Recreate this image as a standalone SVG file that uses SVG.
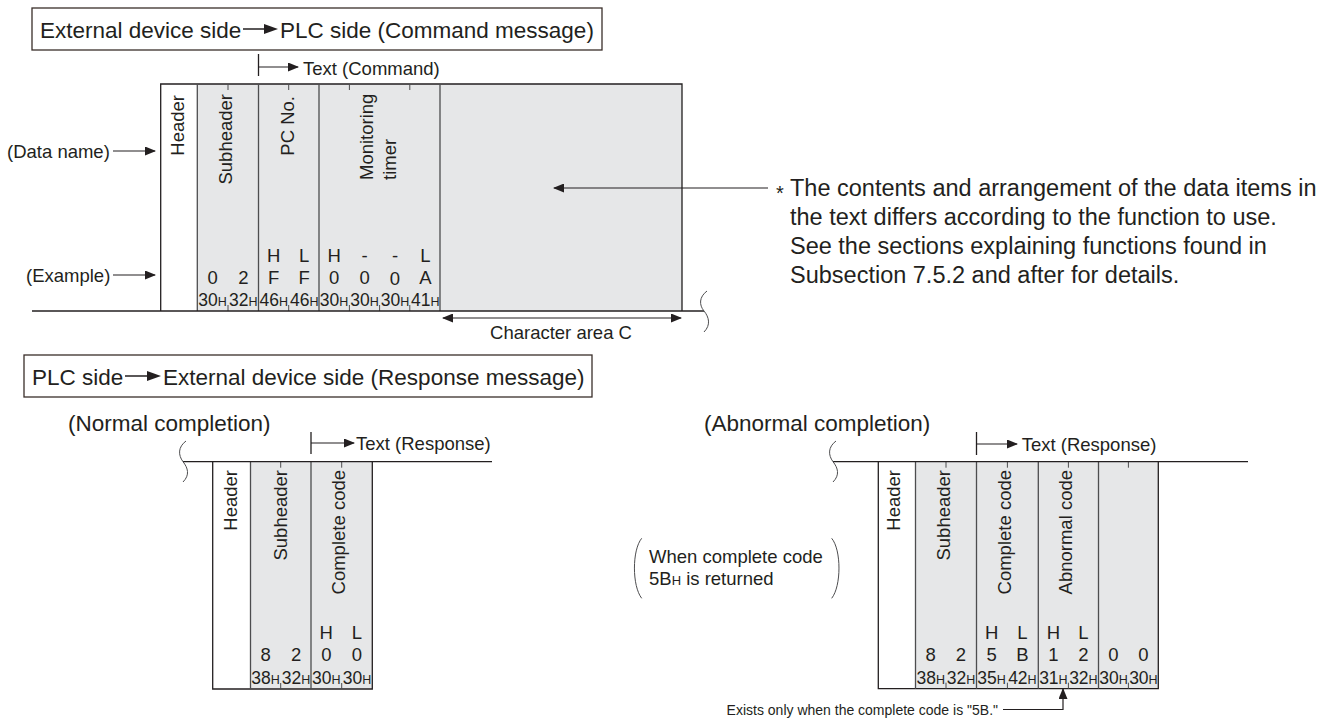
<svg xmlns="http://www.w3.org/2000/svg" width="1337" height="719" viewBox="0 0 1337 719">
<defs>
<style>
text{font-family:"Liberation Sans",Arial,Helvetica,sans-serif;fill:#231f20}
.lg{font-size:22.5px}
.nt{font-size:23.5px}
.sm{font-size:18.5px}
.hx{font-size:17.5px;text-anchor:middle}
.hx tspan{font-size:12.5px}
.c{text-anchor:middle}
.e{text-anchor:end}
.ln{stroke:#231f20;stroke-width:1.3;fill:none}
.col{stroke:#4d4d4f;stroke-width:1.3;fill:none}
.tk{stroke:#4d4d4f;stroke-width:1;fill:none}
.gr{fill:#e6e7e8;stroke:none}
.box{fill:#fff;stroke:#3a2e2a;stroke-width:1.3}
.ar{stroke:#231f20;stroke-width:1.2;fill:none;marker-end:url(#ah)}
</style>
<marker id="ah" markerUnits="userSpaceOnUse" markerWidth="11" markerHeight="9" refX="10" refY="4.5" orient="auto-start-reverse">
<path d="M0,0 L11,4.5 L0,9 z" fill="#231f20"/>
</marker>
</defs>
<rect width="1337" height="719" fill="#fff"/>

<!-- Title 1 -->
<g id="title-command">
<rect class="box" x="32" y="8" width="570" height="42"/>
<text class="lg" x="40" y="37.5">External device side</text>
<path d="M243,29 H265" stroke="#231f20" stroke-width="1.5"/>
<path d="M264,24 L278,29 L264,34 z" fill="#231f20"/>
<text class="lg" x="280" y="37.5">PLC side (Command message)</text>
</g>

<!-- Top frame -->
<g id="command-frame">
<rect class="gr" x="197.3" y="84" width="484.7" height="227"/>
<path class="ln" d="M160.7,311 V84 H682 V311"/>
<path class="col" d="M197.3,84 V311 M258.5,84 V311 M319,84 V311 M440,84 V311"/>
<path class="tk" d="M228,84 v6 M288.7,84 v6 M349.4,84 v6 M409.8,84 v6 M228,311 v-6 M288.7,311 v-6 M349.4,311 v-6 M379.6,311 v-6 M409.8,311 v-6"/>
</g>
<g id="cmd-header"><text class="sm e" transform="translate(183.5,95) rotate(-90)">Header</text></g>
<g id="cmd-subheader">
<text class="sm e" transform="translate(232,94) rotate(-90)">Subheader</text>
<text class="sm c" x="212.6" y="283.5">0</text><text class="sm c" x="243.3" y="283.5">2</text>
<text class="hx" x="212.6" y="306">30<tspan>H</tspan></text><text class="hx" x="243.3" y="306">32<tspan>H</tspan></text>
</g>
<g id="cmd-pcno">
<text class="sm e" transform="translate(294,96) rotate(-90)">PC No.</text>
<text class="sm c" x="273.7" y="261.5">H</text><text class="sm c" x="304.2" y="261.5">L</text>
<text class="sm c" x="273.7" y="283.5">F</text><text class="sm c" x="304.2" y="283.5">F</text>
<text class="hx" x="273.7" y="306">46<tspan>H</tspan></text><text class="hx" x="304.2" y="306">46<tspan>H</tspan></text>
</g>
<g id="cmd-monitoring">
<text class="sm" transform="translate(373,180) rotate(-90)">Monitoring</text>
<text class="sm" transform="translate(396,180) rotate(-90)">timer</text>
<text class="sm c" x="334.1" y="261.5">H</text><text class="sm c" x="364.6" y="261.5">-</text><text class="sm c" x="395" y="261.5">-</text><text class="sm c" x="425.3" y="261.5">L</text>
<text class="sm c" x="334.1" y="283.5">0</text><text class="sm c" x="364.6" y="283.5">0</text><text class="sm c" x="395" y="284.5">0</text><text class="sm c" x="425.3" y="283.5">A</text>
<text class="hx" x="334.1" y="306">30<tspan>H</tspan></text><text class="hx" x="364.6" y="306">30<tspan>H</tspan></text><text class="hx" x="395" y="306">30<tspan>H</tspan></text><text class="hx" x="425.3" y="306">41<tspan>H</tspan></text>
</g>
<g id="cmd-labels">
<text class="sm" x="7" y="157.5">(Data name)</text>
<text class="sm" x="26" y="281.5">(Example)</text>
<text class="sm" x="303" y="74.5">Text (Command)</text>
<text class="sm c" x="561" y="339">Character area C</text>
</g>
<g id="note">
<text x="776" y="200" style="font-size:20px">*</text>
<text class="nt" x="790" y="195.5">The contents and arrangement of the data items in</text>
<text class="nt" x="790" y="224.5">the text differs according to the function to use.</text>
<text class="nt" x="790" y="253.5">See the sections explaining functions found in</text>
<text class="nt" x="790" y="282.5">Subsection 7.5.2 and after for details.</text>
</g>

<!-- Title 2 -->
<g id="title-response">
<rect class="box" x="24" y="355" width="568" height="42"/>
<text class="lg" x="32" y="384.5">PLC side</text>
<path d="M125,376 H148" stroke="#231f20" stroke-width="1.5"/>
<path d="M147,371 L161,376 L147,381 z" fill="#231f20"/>
<text class="lg" x="163" y="384.5">External device side (Response message)</text>
</g>

<!-- Normal completion -->
<g id="normal-frame">
<text class="lg" x="68" y="431">(Normal completion)</text>
<rect class="gr" x="250.5" y="461.7" width="121.8" height="227.3"/>
<path class="ln" d="M212.7,461.7 V689 H372.3 V461.7"/>
<path class="col" d="M250.5,461.7 V689 M311,461.7 V689"/>
<path class="tk" d="M280.7,461.7 v6 M341.7,461.7 v6 M280.7,689 v-6 M341.7,689 v-6"/>
<text class="sm" x="356" y="449.7">Text (Response)</text>
</g>
<g id="normal-header"><text class="sm e" transform="translate(237,470) rotate(-90)">Header</text></g>
<g id="normal-subheader">
<text class="sm e" transform="translate(287,470) rotate(-90)">Subheader</text>
<text class="sm c" x="265.6" y="661">8</text><text class="sm c" x="296.1" y="661">2</text>
<text class="hx" x="265.6" y="684">38<tspan>H</tspan></text><text class="hx" x="296.1" y="684">32<tspan>H</tspan></text>
</g>
<g id="normal-complete">
<text class="sm e" transform="translate(345,470) rotate(-90)">Complete code</text>
<text class="sm c" x="326.3" y="638.5">H</text><text class="sm c" x="357" y="638.5">L</text>
<text class="sm c" x="326.3" y="661">0</text><text class="sm c" x="357" y="661">0</text>
<text class="hx" x="326.3" y="684">30<tspan>H</tspan></text><text class="hx" x="357" y="684">30<tspan>H</tspan></text>
</g>

<!-- Abnormal completion -->
<g id="abnormal-frame">
<text class="lg" x="704" y="431">(Abnormal completion)</text>
<rect class="gr" x="915.5" y="461.7" width="242.8" height="227"/>
<path class="ln" d="M878.3,461.7 V688.7 H1158.3 V461.7"/>
<path class="col" d="M915.5,461.7 V688.7 M976.5,461.7 V688.7 M1038.3,461.7 V688.7 M1098.5,461.7 V688.7"/>
<path class="tk" d="M946,461.7 v6 M1007.4,461.7 v6 M1068.4,461.7 v6 M1128.4,461.7 v6 M946,688.7 v-6 M1007.4,688.7 v-6 M1068.4,688.7 v-6 M1128.4,688.7 v-6"/>
<text class="sm" x="1021.7" y="450.6">Text (Response)</text>
</g>
<g id="abn-header"><text class="sm e" transform="translate(900,470) rotate(-90)">Header</text></g>
<g id="abn-subheader">
<text class="sm e" transform="translate(950,470) rotate(-90)">Subheader</text>
<text class="sm c" x="930.7" y="661">8</text><text class="sm c" x="961" y="661">2</text>
<text class="hx" x="930.7" y="684">38<tspan>H</tspan></text><text class="hx" x="961" y="684">32<tspan>H</tspan></text>
</g>
<g id="abn-complete">
<text class="sm e" transform="translate(1010.5,470) rotate(-90)">Complete code</text>
<text class="sm c" x="991.6" y="638.5">H</text><text class="sm c" x="1022.4" y="638.5">L</text>
<text class="sm c" x="991.6" y="661">5</text><text class="sm c" x="1022.4" y="661">B</text>
<text class="hx" x="991.6" y="684">35<tspan>H</tspan></text><text class="hx" x="1022.4" y="684">42<tspan>H</tspan></text>
</g>
<g id="abn-abnormal">
<text class="sm e" transform="translate(1072,470) rotate(-90)">Abnormal code</text>
<text class="sm c" x="1053.4" y="638.5">H</text><text class="sm c" x="1083.4" y="638.5">L</text>
<text class="sm c" x="1053.4" y="661">1</text><text class="sm c" x="1083.4" y="661">2</text>
<text class="hx" x="1053.4" y="684">31<tspan>H</tspan></text><text class="hx" x="1083.4" y="684">32<tspan>H</tspan></text>
</g>
<g id="abn-extra">
<text class="sm c" x="1113.5" y="661">0</text><text class="sm c" x="1143.4" y="661">0</text>
<text class="hx" x="1113.5" y="684">30<tspan>H</tspan></text><text class="hx" x="1143.4" y="684">30<tspan>H</tspan></text>
</g>
<g id="when-note">
<path class="tk" d="M641.7,538.3 C632,550 632,586 641.7,598.3 M831.7,538.3 C841.4,550 841.4,586 831.7,598.3"/>
<text class="sm" x="649" y="563">When complete code</text>
<text class="sm" x="649" y="585">5B<tspan style="font-size:13px">H</tspan> is returned</text>
</g>
<g id="exists-note">
<text x="998" y="714.5" class="e" style="font-size:14px">Exists only when the complete code is "5B."</text>
</g>

<!-- Connectors -->
<g id="connectors">
<path class="ln" d="M32,311 H704"/>
<path class="tk" d="M707,291 C699,297 699,305 704,311 C709,317 711,325 704,332"/>
<path class="ln" d="M183,461.7 H492"/>
<path class="tk" d="M186,441 C178,447 178,455 183,461.7 C188,468 190,475 183,482"/>
<path class="ln" d="M833,461.7 H1248"/>
<path class="tk" d="M836,441 C828,447 828,455 833,461.7 C838,468 840,475 833,482"/>
<path class="ar" d="M113,151 H155"/>
<path class="ar" d="M113,275 H155"/>
<path class="ar" d="M768,188 H554"/>
<path class="ar" d="M443,318 H681" style="marker-start:url(#ah)"/>
<path class="ln" d="M258.5,54 V76"/>
<path class="ar" d="M258.5,67 H298"/>
<path class="ln" d="M311,432 V454"/>
<path class="ar" d="M311,443 H354"/>
<path class="ln" d="M976.5,432 V455"/>
<path class="ar" d="M976.5,444 H1017"/>
<path class="ar" d="M1003,709.5 H1063 V689"/>
</g>
</svg>
